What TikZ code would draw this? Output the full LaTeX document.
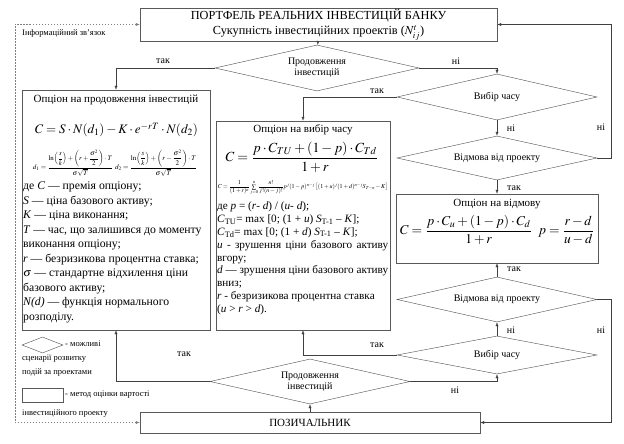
\documentclass[tikz,border=0pt]{standalone}
\usepackage{amsmath}
\usepackage{mathptmx}
\usepackage{fontspec}
\setmainfont{Liberation Serif}
\usepackage{graphicx}
\usetikzlibrary{shapes.geometric,arrows.meta}

\begin{document}
\begin{tikzpicture}[x=1pt, y=-1pt,
  every node/.style={font=\fontsize{11}{13}\selectfont, inner sep=1pt},
  blk/.style={draw=black!65, rectangle},
  choice/.style={draw=black!70, diamond, aspect=4.4, inner sep=0pt, align=center, font=\fontsize{10}{11}\selectfont},
  yesno/.style={font=\fontsize{10}{11}\selectfont},
  note/.style={font=\fontsize{8.5}{13.5}\selectfont, align=left},
  flow/.style={draw=black!75, -{Latex[length=4pt,width=3pt]}},
  info/.style={draw=black!50, dash pattern=on 1.5pt off 1.5pt, {Latex[length=4pt,width=3pt]}-{Latex[length=4pt,width=3pt]}}]
  \useasboundingbox (0,0) rectangle (624,444);

  % blocks
  \node[blk, minimum width=357pt, minimum height=31pt, align=center, font=\fontsize{12.3}{15}\selectfont] (port) at (318.5,24.5)
    {ПОРТФЕЛЬ РЕАЛЬНИХ ІНВЕСТИЦІЙ БАНКУ\\Сукупність інвестиційних проектів ($N^{t}_{ij}$)};
  \node[blk, minimum width=340pt, minimum height=21pt] (borrow) at (310,422.5) {ПОЗИЧАЛЬНИК};
  \node[blk, minimum width=188pt, minimum height=240pt] (lopt) at (116,210) {};
  \node[blk, minimum width=174pt, minimum height=209pt] (topt) at (303,225.5) {};
  \node[blk, minimum width=202pt, minimum height=69pt] (ropt) at (497,228.5) {};

  % decisions
  \node[choice, minimum width=204pt, minimum height=46pt] (cont1) at (317,68) {Продовження\\інвестицій};
  \node[choice, minimum width=200pt, minimum height=46pt] (tim1) at (497,97) {Вибір часу};
  \node[choice, minimum width=200pt, minimum height=44pt] (ref1) at (497,158) {Відмова від проекту};
  \node[choice, minimum width=200pt, minimum height=45pt] (ref2) at (497,299.5) {Відмова від проекту};
  \node[choice, minimum width=200pt, minimum height=38pt] (tim2) at (497,355) {Вибір часу};
  \node[choice, minimum width=200pt, minimum height=45pt] (cont2) at (310,381.5) {Продовження\\інвестицій};

  % option to continue
  \node at (116,100) {Опціон на продовження інвестицій};
  \node at (116.5,130) {\resizebox{163pt}{!}{$C=S\cdot N(d_1)-K\cdot e^{-rT}\cdot N(d_2)$}};
  \node at (73,163) {\resizebox{80pt}{!}{$d_1=\dfrac{\ln\!\left(\dfrac{s}{k}\right)+\left(r+\dfrac{\sigma^2}{2}\right)\cdot T}{\sigma\sqrt{T}}$}};
  \node at (156,163) {\resizebox{82pt}{!}{$d_2=\dfrac{\ln\!\left(\dfrac{s}{k}\right)+\left(r-\dfrac{\sigma^2}{2}\right)\cdot T}{\sigma\sqrt{T}}$}};
  \node[anchor=north west, align=left, font=\fontsize{11.7}{14.5}\selectfont] at (22,181) {%
    де \textit{C} — премія опціону;\\
    \textit{S} — ціна базового активу;\\
    \textit{K} — ціна виконання;\\
    \textit{T} — час, що залишився до моменту\\
    виконання опціону;\\
    \textit{r} — безризикова процентна ставка;\\
    $\sigma$ — стандартне відхилення ціни\\
    базового активу;\\
    \textit{N(d)} — функція нормального\\
    розподілу.};

  % timing option
  \node at (303,130) {Опціон на вибір часу};
  \node at (302,157) {\resizebox{153pt}{!}{$C=\dfrac{p\cdot C_{TU}+(1-p)\cdot C_{Td}}{1+r}$}};
  \node at (303,188) {\resizebox{170pt}{!}{$C=\dfrac{1}{(1+r)^n}\sum\limits_{j=0}^{n}\dfrac{n!}{j!(n-j)!}p^j(1-p)^{n-j}\left[(1+u)^j(1+d)^{n-j}S_{T-n}-K\right]$}};
  \node[anchor=north west, align=left, font=\fontsize{11.2}{12.9}\selectfont] at (216,200.5) {%
    де \textit{p} = (\textit{r}- \textit{d}) / (\textit{u}- \textit{d});\\
    \textit{C}\textsubscript{TU}= max [0; (1 + \textit{u}) \textit{S}\textsubscript{T-1} – \textit{K}];\\
    \textit{C}\textsubscript{Td}= max [0; (1 + \textit{d}) \textit{S}\textsubscript{T-1} – \textit{K}];\\
    \makebox[171pt][s]{\textit{u} - зрушення ціни базового активу}\\
    вгору;\\
    \makebox[171pt][s]{\textit{d} — зрушення ціни базового активу}\\
    вниз;\\
    \textit{r} - безризикова процентна ставка\\
    (\textit{u} > \textit{r} > \textit{d}).};

  % abandon option
  \node at (497,204) {Опціон на відмову};
  \node at (497,230) {\resizebox{194pt}{!}{$C=\dfrac{p\cdot C_u+(1-p)\cdot C_d}{1+r}\;\;p=\dfrac{r-d}{u-d}$}};

  % connectors
  \draw[flow] (port) -- (cont1);
  \draw[flow] (cont1.west) -| (lopt.north);
  \draw[flow] (cont1.east) -| (tim1.north);
  \draw[flow] (tim1.west) -| (topt.north);
  \draw[flow] (tim1) -- (ref1);
  \draw[flow] (ref1) -- (ropt);
  \draw[flow] (ref1.east) -- ++(14,0) |- (port.east);
  \draw[flow] (borrow) -- (cont2);
  \draw[flow] (cont2.west) -| (lopt.south);
  \draw[flow] (cont2.east) -| (tim2.south);
  \draw[flow] (tim2.west) -| (topt.south);
  \draw[flow] (tim2) -- (ref2);
  \draw[flow] (ref2) -- (ropt);
  \draw[flow] (ref2.east) -- ++(14,0) |- (borrow.east);
  \draw[info] (port.west) -- ++(-125,0) |- (borrow.west);

  \node[yesno] at (163,61) {так};
  \node[yesno] at (456,61) {ні};
  \node[yesno] at (377,91) {так};
  \node[yesno] at (511,128) {ні};
  \node[yesno] at (601,127) {ні};
  \node[yesno] at (514,188) {так};
  \node[yesno] at (514,269) {так};
  \node[yesno] at (511,330) {ні};
  \node[yesno] at (601,330) {ні};
  \node[yesno] at (377,345) {так};
  \node[yesno] at (455,390) {ні};
  \node[yesno] at (184,354) {так};

  % legend
  \node[note, anchor=west] at (21,33) {Інформаційний зв’язок};
  \node[draw=black!70, diamond, aspect=2.6, minimum width=41pt, minimum height=16pt, inner sep=0pt] (lgd) at (42.5,345) {};
  \node[note, anchor=west] at (64,344) {- можливі};
  \node[note, anchor=north west] at (21,354) {сценарії розвитку\\подій за проектами};
  \node[blk, minimum width=41pt, minimum height=14pt, inner sep=0pt] (lgr) at (42.5,395) {};
  \node[note, anchor=west] at (64,395) {- метод оцінки вартості};
  \node[note, anchor=west] at (21,414) {інвестиційного проекту};
\end{tikzpicture}
\end{document}
